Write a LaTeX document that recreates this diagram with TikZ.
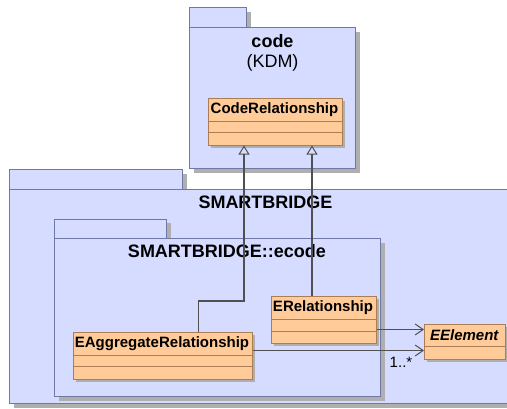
\documentclass[tikz,border=0pt]{standalone}
\usepackage{fontspec}
\setmainfont{Liberation Sans}
\usetikzlibrary{arrows.meta}

\definecolor{pkgfill}{RGB}{213,220,255}
\definecolor{pkgline}{RGB}{110,122,165}
\definecolor{clsfill}{RGB}{255,204,153}
\definecolor{clsline}{RGB}{170,125,85}
\definecolor{shadowgray}{RGB}{175,175,175}
\definecolor{wire}{RGB}{80,80,80}

\tikzset{
  pkgshape/.style={fill=pkgfill, draw=pkgline, line width=1pt},
  pkgshadow/.style={fill=shadowgray, draw=none},
  clsbox/.style={fill=clsfill, draw=clsline, line width=1pt, rectangle,
    inner sep=0pt, anchor=north west},
  clssep/.style={draw=clsline, line width=1pt},
  pkgtitle/.style={font=\fontsize{18}{20}\selectfont\bfseries},
  pkgsub/.style={font=\fontsize{18}{20}\selectfont},
  clsname/.style={font=\fontsize{15}{17}\selectfont\bfseries},
  multlabel/.style={font=\fontsize{15}{17}\selectfont},
  generalize/.style={draw=wire, line width=1.1pt,
    -{Triangle[open, length=9pt, width=11pt, line width=1pt]}},
  assoc/.style={draw=wire, line width=1.1pt,
    -{Straight Barb[length=8pt, width=11pt, line width=1pt]}},
}

% a package: tab on top of a body, both with a drop shadow
\newcommand{\umlpackage}[6]{% tab x1, tab x2, tab y1, body y1, body x2, body y2
  \fill[pkgshadow] (#1+4,#3+4) rectangle (#2+4,#4+4);
  \fill[pkgshadow] (#1+4,#4+4) rectangle (#5+4,#6+4);
  \draw[pkgshape] (#1,#3) rectangle (#2,#4);
  \draw[pkgshape] (#1,#4) rectangle (#5,#6);
}

\begin{document}
\begin{tikzpicture}[x=1pt, y=-1pt]
\useasboundingbox (0,0) rectangle (507,408);

% ---- package code (KDM)
\umlpackage{189.5}{246.5}{7.5}{27.5}{355.5}{168.5}
\node[pkgtitle] (codeT) at (272.5,41.5) {code};
\node[pkgsub] (codeS) at (272.5,63) {(KDM)};

% ---- package SMARTBRIDGE
\umlpackage{9.5}{182.5}{169.5}{189.5}{520}{403.5}
\node[pkgtitle] (sbT) at (265.5,202.5) {SMARTBRIDGE};

% ---- package SMARTBRIDGE::ecode
\umlpackage{54.5}{166.5}{219}{238.5}{380.5}{396.5}
\node[pkgtitle] (ecT) at (227,251.5) {SMARTBRIDGE::ecode};

% ---- classes
% CodeRelationship
\fill[shadowgray] (210.5,100.5) rectangle (344.5,147.5);
\node[clsbox, minimum width=134pt, minimum height=47pt] (codeRel) at (207.5,97.5) {};
\draw[clssep] (207.5,121) -- (341.5,121) (207.5,132.5) -- (341.5,132.5);
\node[clsname] at (274.5,109.5) {CodeRelationship};

% ERelationship
\fill[shadowgray] (273.5,299) rectangle (378.5,345.5);
\node[clsbox, minimum width=105pt, minimum height=46.5pt] (eRel) at (270.5,296) {};
\draw[clssep] (270.5,319.5) -- (375.5,319.5) (270.5,331) -- (375.5,331);
\node[clsname] at (323,308) {ERelationship};

% EAggregateRelationship
\fill[shadowgray] (75.5,335) rectangle (254.5,381.5);
\node[clsbox, minimum width=179pt, minimum height=46.5pt] (eAgg) at (72.5,332) {};
\draw[clssep] (72.5,355) -- (251.5,355) (72.5,366.5) -- (251.5,366.5);
\node[clsname] at (162,343.5) {EAggregateRelationship};

% EElement (abstract)
\fill[shadowgray] (427,326.5) rectangle (507.5,361.5);
\node[clsbox, minimum width=80.5pt, minimum height=35pt] (eElem) at (424,323.5) {};
\draw[clssep] (424,346.5) -- (504.5,346.5);
\node[clsname, font=\fontsize{15}{17}\selectfont\bfseries\itshape] at (464.25,335) {EElement};

% ---- generalizations
\coordinate (aggUp) at (198.5,301);
\draw[generalize] (eAgg.north west -| aggUp) -- (aggUp) -- (aggUp -| 244,0)
  -- (codeRel.south west -| 244,0);
\draw[generalize] (eRel.north west -| 312,0) -- (codeRel.south west -| 312,0);

% ---- associations
\draw[assoc] (eRel.north east |- 0,329.5) -- (eElem.north west |- 0,329.5);
\draw[assoc] (eAgg.north east |- 0,350.5) -- (eElem.north west |- 0,350.5);
\node[multlabel] (mult) at (401,362.5) {1..*};
\end{tikzpicture}
\end{document}
